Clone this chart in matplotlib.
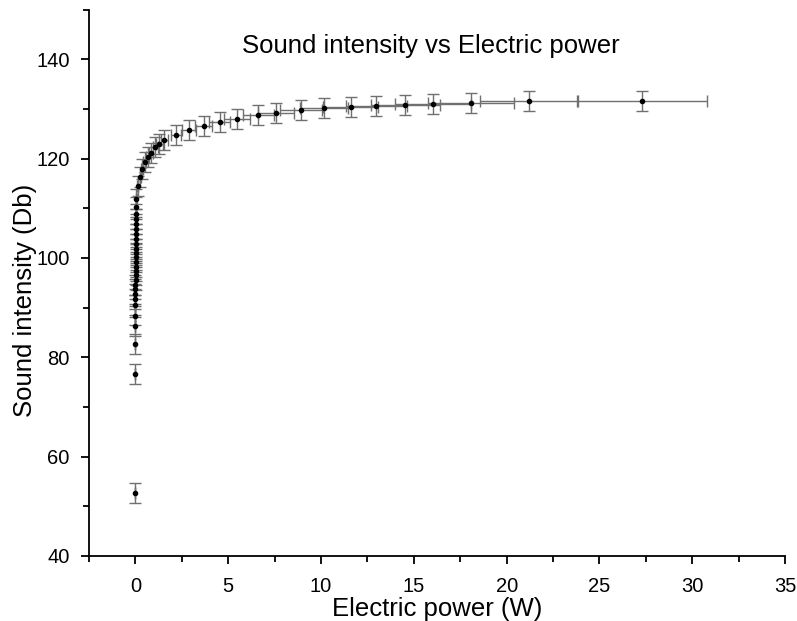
import numpy as np
import matplotlib.pyplot as plt
from matplotlib.ticker import MultipleLocator

plt.rcParams['font.family'] = ['Liberation Sans', 'DejaVu Sans']

# Electric power (W) and sound intensity (Db)
power = [0.00, 0.00, 0.00, 0.00, 0.00, 0.00, 0.00, 0.00, 0.00, 0.00,
         0.01, 0.01, 0.01, 0.01, 0.01, 0.01, 0.01, 0.01, 0.01, 0.02,
         0.02, 0.02, 0.02, 0.03, 0.03, 0.04, 0.05, 0.12, 0.25, 0.36,
         0.49, 0.66, 0.86, 1.06, 1.29, 1.56, 2.19, 2.87, 3.67, 4.53,
         5.45, 6.63, 7.59, 8.92, 10.15, 11.6, 12.98, 14.53, 16.04, 18.07,
         21.2, 27.28]
intensity = [52.7, 76.7, 82.7, 86.2, 88.4, 90.5, 91.8, 92.8, 93.8, 94.6,
             95.6, 96.5, 97.4, 98.2, 99.1, 100.1, 100.9, 101.8, 102.8, 103.8,
             104.8, 105.8, 106.8, 107.8, 108.8, 110.2, 111.9, 114.4, 116.2, 117.9,
             119.3, 120.3, 121.2, 122.3, 123.0, 123.8, 124.7, 125.8, 126.6, 127.3,
             128.0, 128.7, 129.2, 129.7, 130.2, 130.4, 130.6, 130.8, 130.9, 131.1,
             131.5, 131.6]
power_err = [0.0, 0.0, 0.0, 0.0, 0.0, 0.0, 0.0, 0.0, 0.0, 0.0,
             0.0, 0.0, 0.0, 0.0, 0.0, 0.0, 0.0, 0.0, 0.0, 0.0,
             0.0, 0.0, 0.0, 0.0, 0.0, 0.01, 0.01, 0.02, 0.03, 0.05,
             0.06, 0.08, 0.11, 0.14, 0.17, 0.20, 0.28, 0.37, 0.47, 0.58,
             0.70, 0.85, 0.97, 1.14, 1.30, 1.48, 1.66, 1.86, 2.05, 2.31,
             2.64, 3.5]
intensity_err = [2.0] * len(intensity)

fig = plt.figure(figsize=(7.97, 6.21), dpi=100)
ax = fig.add_axes([0.1117, 0.1047, 0.8733, 0.88])

ax.errorbar(power, intensity, xerr=power_err, yerr=intensity_err,
            fmt='none', ecolor='#707070', elinewidth=1.0, capsize=4.5,
            capthick=1.0, zorder=2)
ax.plot(power, intensity, 'o', color='black', markersize=3, zorder=4)

ax.set_xlim(-2.5, 35)
ax.set_ylim(40, 150)
ax.xaxis.set_major_locator(MultipleLocator(5))
ax.xaxis.set_minor_locator(MultipleLocator(2.5))
ax.yaxis.set_major_locator(MultipleLocator(20))
ax.yaxis.set_minor_locator(MultipleLocator(10))
ax.set_yticks([40, 60, 80, 100, 120, 140])

for side in ['top', 'right']:
    ax.spines[side].set_visible(False)
for side in ['left', 'bottom']:
    ax.spines[side].set_linewidth(1.3)
ax.tick_params(which='major', direction='out', length=6, width=1.3,
               labelsize=14.5)
ax.tick_params(axis='x', which='major', pad=9)
ax.tick_params(axis='y', which='major', pad=8)
ax.tick_params(which='minor', direction='out', length=4, width=1.3)

ax.set_xlabel('Electric power (W)', fontsize=18.5)
ax.set_ylabel('Sound intensity (Db)', fontsize=18.5)
ax.xaxis.set_label_coords(0.50, -0.075)
ax.yaxis.set_label_coords(-0.075, 0.468)
ax.text(0.491, 0.933, 'Sound intensity vs Electric power',
        transform=ax.transAxes, ha='center', va='center', fontsize=18.5)

fig.savefig('out.png', dpi=100)
